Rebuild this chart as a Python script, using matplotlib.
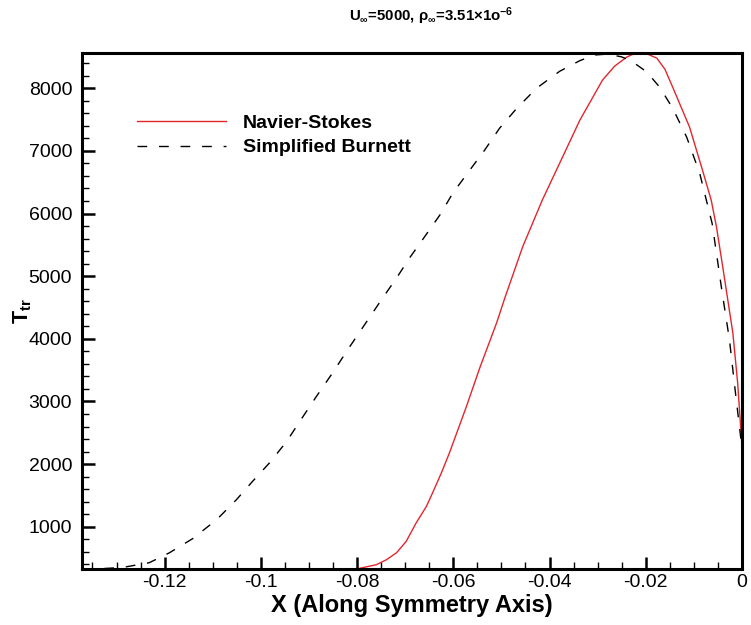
import matplotlib
matplotlib.use("Agg")
import matplotlib.pyplot as plt
from matplotlib.ticker import MultipleLocator

plt.rcParams['font.family'] = ['Liberation Sans', 'DejaVu Sans']
plt.rcParams['mathtext.fontset'] = 'custom'
plt.rcParams['mathtext.rm'] = 'Liberation Sans:bold'
plt.rcParams['mathtext.it'] = 'Liberation Sans:bold'
plt.rcParams['mathtext.bf'] = 'Liberation Sans:bold'

# Navier-Stokes (red, solid)
ns_x = [-0.137, -0.085, -0.0799, -0.0760, -0.0739, -0.0718, -0.0698, -0.0677, -0.0656,
        -0.0643, -0.0625, -0.0608, -0.0573, -0.0545, -0.0510, -0.0493, -0.0456,
        -0.0415, -0.0373, -0.0337, -0.0290, -0.0265, -0.0240, -0.0225, -0.0212,
        -0.0195, -0.0177, -0.0160, -0.0144, -0.0109, -0.0082, -0.0064, -0.0053,
        -0.0040, -0.0019, -0.0009, 0.0]
ns_t = [300, 300, 330, 394, 474, 585, 766, 1064, 1324,
        1542, 1856, 2180, 2914, 3536, 4254, 4650, 5465,
        6215, 6900, 7490, 8128, 8350, 8495, 8548, 8565,
        8540, 8480, 8300, 8016, 7380, 6690, 6215, 5785,
        5147, 4094, 3297, 2280]

# Simplified Burnett (black, dashed)
sb_x = [-0.137, -0.1335, -0.1288, -0.1232, -0.1190, -0.1142, -0.1092, -0.1051, -0.1018,
        -0.0982, -0.0947, -0.0914, -0.0885, -0.0851, -0.0820, -0.0747, -0.0718,
        -0.0691, -0.0660, -0.0628, -0.0601, -0.0566, -0.0535, -0.0504, -0.0468,
        -0.0427, -0.0379, -0.0337, -0.0306, -0.0280, -0.0250, -0.0229, -0.0198,
        -0.0171, -0.0144, -0.0115, -0.0088, -0.0062, -0.0042, -0.0026, -0.0015, 0.0]
sb_t = [315, 330, 350, 426, 585, 809, 1112, 1430, 1718,
        2020, 2355, 2740, 3075, 3455, 3820, 4650, 4970,
        5290, 5625, 5975, 6325, 6690, 7010, 7360, 7680,
        8000, 8270, 8440, 8530, 8545, 8500, 8430, 8260,
        8016, 7680, 7220, 6645, 5840, 4780, 3982, 3233, 2250]

x_ticks = [-0.12, -0.1, -0.08, -0.06, -0.04, -0.02, 0]
x_labels = ['-0.12', '-0.1', '-0.08', '-0.06', '-0.04', '-0.02', '0']
y_ticks = [1000, 2000, 3000, 4000, 5000, 6000, 7000, 8000]

fig = plt.figure(figsize=(7.51, 6.25), dpi=100)
ax = fig.add_axes([0.109, 0.089, 0.879, 0.827])

ax.plot(ns_x, ns_t, color='#e3262c', linewidth=1.0, label='Navier-Stokes')
ax.plot(sb_x, sb_t, color='black', linewidth=1.0, dashes=(7, 8.5),
        label='Simplified Burnett')

ax.set_xlim(-0.1372, 0)
ax.set_ylim(320, 8570)
ax.set_xticks(x_ticks)
ax.set_xticklabels(x_labels)
ax.set_yticks(y_ticks)
ax.xaxis.set_minor_locator(MultipleLocator(0.005))
ax.yaxis.set_minor_locator(MultipleLocator(200))
ax.tick_params(which='both', direction='in', top=False, right=False,
               labelsize=14)
ax.tick_params(which='major', length=9, width=1.8)
ax.tick_params(axis='y', which='major', pad=7)
ax.tick_params(which='minor', length=5, width=1.0)

for s in ax.spines.values():
    s.set_linewidth(2.2)

ax.set_xlabel('X (Along Symmetry Axis)', fontsize=17, fontweight='bold',
              labelpad=2)
ax.set_ylabel(r'T$_{\mathrm{tr}}$', fontsize=15.5, fontweight='bold')
ax.yaxis.set_label_coords(-0.072, 0.5)

fig.text(0.574, 0.974, r'U$_\infty$=5000, $\rho_\infty$=3.51$\times$1o$^{-6}$',
         ha='center', va='center', fontsize=10.8, fontweight='bold')

ax.legend(loc='upper left', bbox_to_anchor=(0.182, 0.817),
          bbox_transform=fig.transFigure, frameon=False,
          prop={'weight': 'bold', 'size': 14}, handlelength=4.6,
          handletextpad=0.85, labelspacing=0.35, borderpad=0, borderaxespad=0)

fig.savefig('out.png', dpi=100)
